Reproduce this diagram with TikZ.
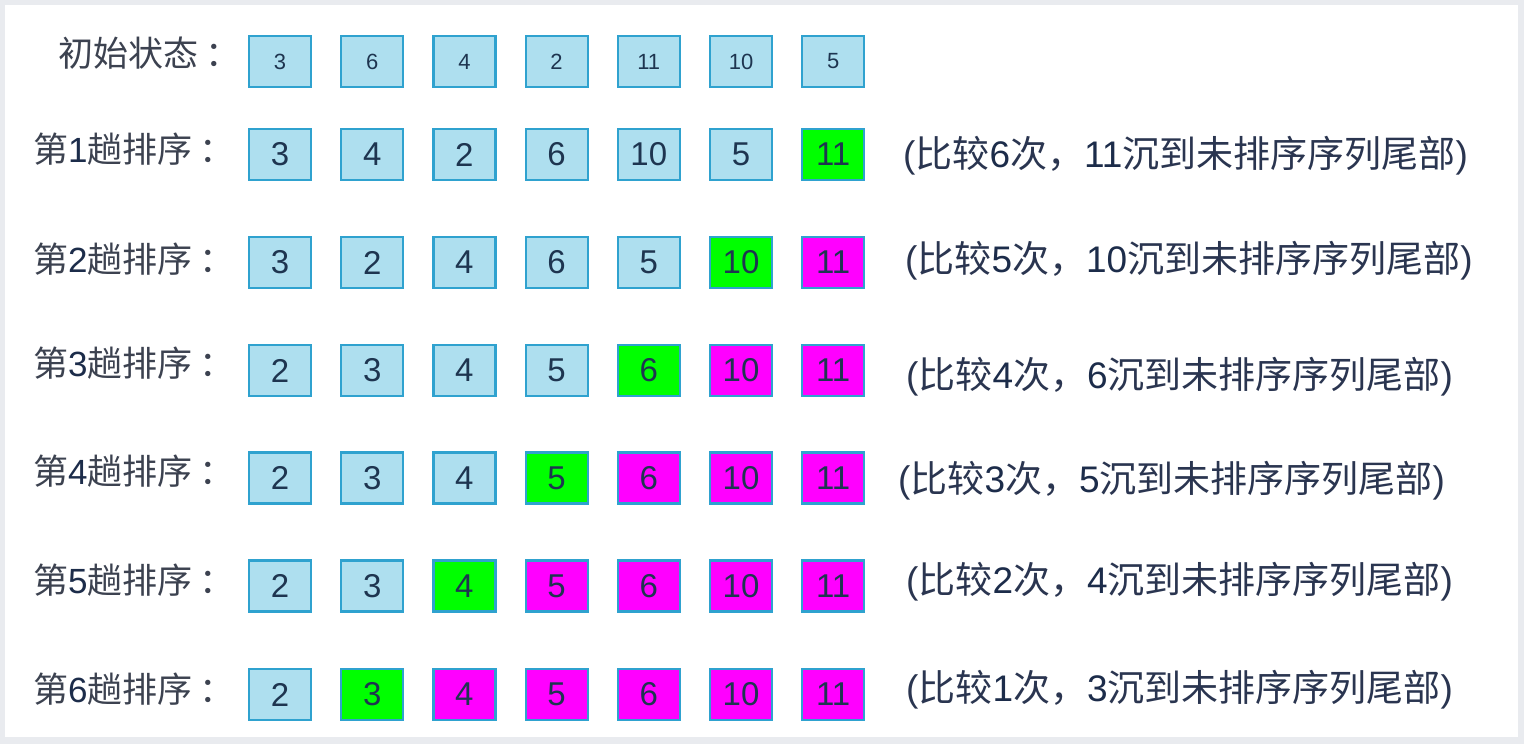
\documentclass[tikz,border=0pt]{standalone}
\usepackage{fontspec}
\setmainfont{Liberation Sans}
\newfontfamily\cjk{Noto Sans CJK SC}
\definecolor{framegray}{HTML}{E9EBEF}
\definecolor{cellblue}{HTML}{AEDFEF}
\definecolor{celledge}{HTML}{2FA2CF}
\definecolor{cellgreen}{HTML}{00FF00}
\definecolor{cellmag}{HTML}{FF00FF}
\definecolor{numtxt}{HTML}{1E3550}
\definecolor{lbltxt}{HTML}{3C4250}
\definecolor{notetxt}{HTML}{2A3550}
\definecolor{digtxt}{HTML}{1C2C4A}
\newcommand\passlabel[1]{{\cjk 第}\textcolor{digtxt}{#1}{\cjk 趟排序\kern7pt：}}
\newcommand\notetext[2]{({\cjk 比较}\textcolor{digtxt}{#1}{\cjk 次，}\textcolor{digtxt}{#2}{\cjk 沉到未排序序列尾部})}
\begin{document}
\begin{tikzpicture}[x=1pt,y=-1pt,
  cell/.style={draw=celledge, line width=2.2pt, minimum width=62pt, minimum height=51pt,
    inner sep=0pt, text=numtxt, font=\fontsize{33}{33}\selectfont},
  smallcell/.style={cell, font=\fontsize{22}{22}\selectfont},
  B/.style={fill=cellblue}, G/.style={fill=cellgreen}, M/.style={fill=cellmag},
  lbl/.style={anchor=base west, inner sep=0pt, text=lbltxt, font=\fontsize{35}{35}\selectfont},
  note/.style={anchor=base west, inner sep=0pt, text=notetxt, font=\fontsize{37}{37}\selectfont}]
\useasboundingbox (0,0) rectangle (1524,744);
\fill[framegray] (0,0) rectangle (1524,744);
\fill[white] (5,5) rectangle (1518,737);

% row 0: initial state
\node[lbl] (lab0) at (58,66) {{\cjk 初始状态\kern7pt：}};
\foreach \v [count=\c] in {3,6,4,2,11,10,5}
  \node[smallcell,B] (r0-\c) at ({280+(\c-1)*92.2},61.5) {\v};

% passes
\foreach \r/\y/\ly/\ny/\nx/\cmp/\sunk/\vals in {
  1/154.5/162/167/903/6/11/{3/B,4/B,2/B,6/B,10/B,5/B,11/G},
  2/262.5/272/272/905/5/10/{3/B,2/B,4/B,6/B,5/B,10/G,11/M},
  3/370.5/376/388/906/4/6/{2/B,3/B,4/B,5/B,6/G,10/M,11/M},
  4/478/484/492/898/3/5/{2/B,3/B,4/B,5/G,6/M,10/M,11/M},
  5/586/593/593/906/2/4/{2/B,3/B,4/G,5/M,6/M,10/M,11/M},
  6/694.5/702/701/906/1/3/{2/B,3/G,4/M,5/M,6/M,10/M,11/M}}{
  \node[lbl] (lab\r) at (33,\ly) {\passlabel{\r}};
  \foreach \v/\s [count=\c] in \vals
    \node[cell,\s] (r\r-\c) at ({280+(\c-1)*92.2},\y) {\v};
  \node[note] (note\r) at (\nx,\ny) {\notetext{\cmp}{\sunk}};
}
\end{tikzpicture}
\end{document}
